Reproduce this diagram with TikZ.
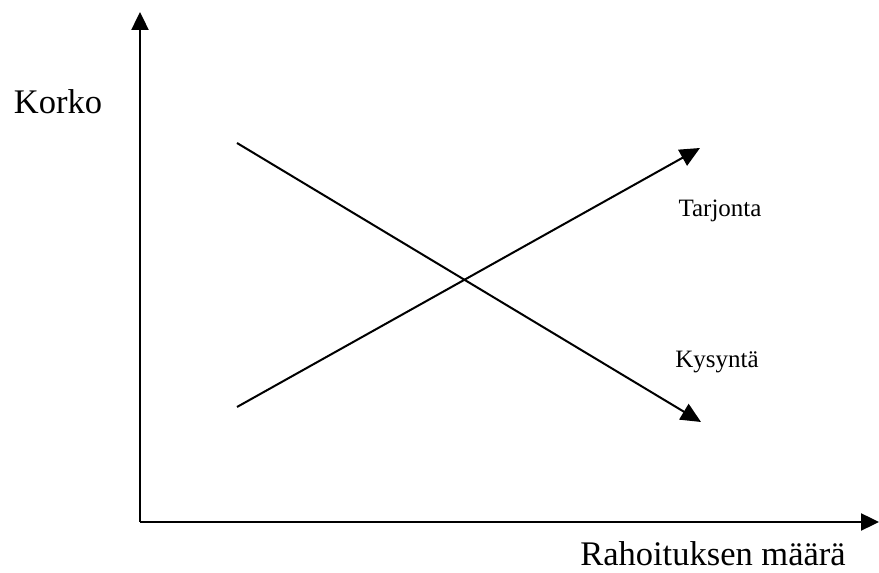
\documentclass[tikz,border=0pt]{standalone}
\usepackage{fontspec}
\setmainfont{Liberation Serif}
\usetikzlibrary{arrows.meta}
\begin{document}
\begin{tikzpicture}[x=1pt,y=1pt,
  axis/.style={line width=2.4pt,-{Triangle[length=18pt,width=17pt]}},
  curve/.style={line width=2pt,-{Triangle[length=20pt,width=18pt]}},
  big/.style={font=\fontsize{34.5}{37}\selectfont,inner sep=1pt},
  small/.style={font=\fontsize{25}{28}\selectfont}]
\useasboundingbox (0,0) rectangle (879,573);
\coordinate (O) at (140,51);
\coordinate (ytop) at (140,561);
\coordinate (xend) at (879,51);
\draw[axis] (O) -- (ytop);
\draw[axis] (O) -- (xend);
\coordinate (s0) at (237,166);
\coordinate (s1) at (700,425);
\coordinate (d0) at (237,430);
\coordinate (d1) at (701,151);
\draw[curve] (s0) -- (s1);
\draw[curve] (d0) -- (d1);
\node[big] (korko) at (58,471) {Korko};
\node[big] (rah) at (713,19) {Rahoituksen määrä};
\node[small] (tar) at (720,362) {Tarjonta};
\node[small] (kys) at (717,211) {Kysyntä};
\end{tikzpicture}
\end{document}
